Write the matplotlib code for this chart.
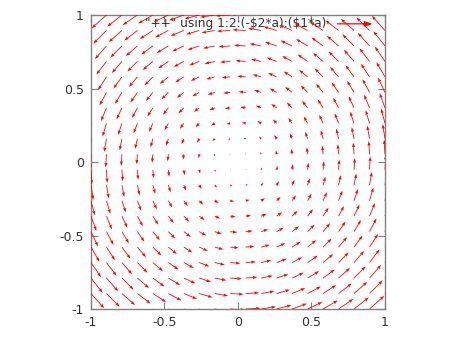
import numpy as np
import matplotlib
matplotlib.use("Agg")
import matplotlib.pyplot as plt

# data: gnuplot '++' pseudo-file grid (20 x 20 samples on [-1,1]) and scale a
x_samples = np.linspace(-1.0, 1.0, 20)
y_samples = np.linspace(-1.0, 1.0, 20)
a = 0.1
xticks = [-1, -0.5, 0, 0.5, 1]
xtick_labels = ["-1", "-0.5", "0", "0.5", "1"]
yticks = [-1, -0.5, 0, 0.5, 1]
ytick_labels = ["-1", "-0.5", "0", "0.5", "1"]
key_title = '"++" using 1:2:(-$2*a):($1*a)'

X, Y = np.meshgrid(x_samples, y_samples)
U = -Y * a
V = X * a

fig = plt.figure(figsize=(4.5, 3.38), dpi=100)
ax = fig.add_axes([0.2022, 0.0858, 0.6533, 0.8698])

ax.quiver(X, Y, U, V, angles='xy', scale_units='xy', scale=1,
          color='#ff0000', width=0.0028, headwidth=3.8, headlength=5.5,
          headaxislength=5.0, minshaft=1, minlength=0.5, zorder=3)

ax.set_xlim(-1, 1)
ax.set_ylim(-1, 1)
ax.set_xticks(xticks)
ax.set_xticklabels(xtick_labels)
ax.set_yticks(yticks)
ax.set_yticklabels(ytick_labels)
ax.tick_params(direction='in', length=5, width=0.8, color='#808080',
               top=True, right=True, labelsize=9, labelcolor='#303030', pad=5)
for s in ax.spines.values():
    s.set_color('#808080')
    s.set_linewidth(1.0)

# key
ax.text(0.8, 0.97, key_title, transform=ax.transAxes, ha='right', va='center',
        fontsize=8.8, color='#303030', zorder=2, parse_math=False)
ax.annotate('', xy=(0.958, 0.97), xytext=(0.838, 0.97),
            xycoords='axes fraction', textcoords='axes fraction',
            arrowprops=dict(arrowstyle='-|>,head_length=0.45,head_width=0.15',
                            color='#ff0000', lw=0.9, shrinkA=0, shrinkB=0),
            zorder=3)

fig.savefig("out.png", dpi=100)
